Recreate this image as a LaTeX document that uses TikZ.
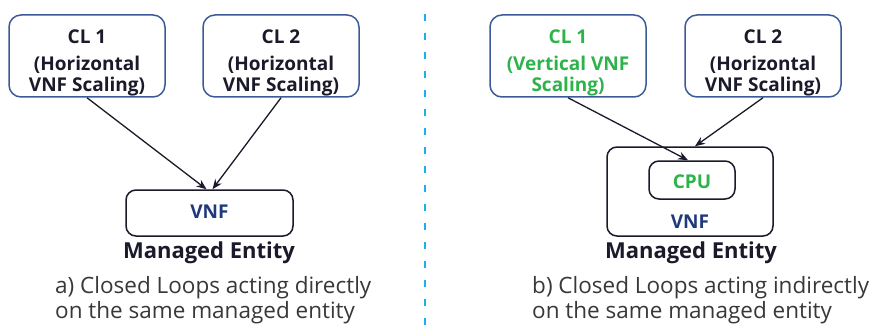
\documentclass[tikz,border=0pt]{standalone}
\usepackage{fontspec}
\setmainfont{Open Sans}
\usetikzlibrary{arrows.meta,calc}
\definecolor{boxblue}{HTML}{3C5A99}
\definecolor{vnfblue}{HTML}{1F3A7A}
\definecolor{clgreen}{HTML}{2DB34A}
\definecolor{sepblue}{HTML}{1DB0E6}
\definecolor{ink}{HTML}{1A1A2A}
\definecolor{captext}{HTML}{383838}
\begin{document}
\begin{tikzpicture}[x=1pt,y=-1pt,
  clbox/.style={draw=boxblue,line width=1.5pt,rounded corners=12pt,
    minimum width=156pt,minimum height=82pt,inner sep=0pt},
  entbox/.style={draw=ink,line width=1.5pt,rounded corners=10pt,inner sep=0pt},
  cltext/.style={align=center,inner sep=0pt,
    font=\bfseries\fontsize{19}{21}\selectfont},
  vnftext/.style={text=vnfblue,inner sep=0pt,font=\bfseries\fontsize{19}{21}\selectfont},
  enttitle/.style={text=ink,inner sep=0pt,font=\bfseries\fontsize{22}{24}\selectfont},
  caption/.style={text=captext,align=left,anchor=west,inner sep=0pt,
    font=\fontsize{22.5}{25}\selectfont},
  link/.style={draw=ink,line width=1.3pt,-{Stealth[length=10pt,width=8pt]}}]
\useasboundingbox[fill=white] (0,0) rectangle (883,326);

% separator between the two cases
\coordinate (septop) at (425,14);
\coordinate (sepbot) at (425,326);
\draw[sepblue,line width=2.5pt,dash pattern=on 7pt off 12pt] (septop) -- (sepbot);

% ---- case a) ----
\node[clbox] (cla1) at (87,56) {};
\node[cltext,text=ink] (cla1t) at (87,63) {CL 1\\[6pt](Horizontal\\VNF Scaling)};
\node[clbox] (cla2) at (281,56) {};
\node[cltext,text=ink] (cla2t) at (281,63) {CL 2\\[6pt](Horizontal\\VNF Scaling)};
\node[entbox,minimum width=167pt,minimum height=46pt] (vnfa) at (209.5,213) {};
\node[vnftext] (vnfat) at (209.5,212) {VNF};
\node[enttitle] (enta) at (209,253) {Managed Entity};
\node[caption] (capa) at (55,300) {a) Closed Loops acting directly\\on the same managed entity};
\draw[link] (cla1.south) -- ($(vnfa.north)+(-3,0)$);
\draw[link] (cla2.south) -- ($(vnfa.north)+(3,0)$);

% ---- case b) ----
\node[clbox] (clb1) at (568,56) {};
\node[cltext,text=clgreen] (clb1t) at (568,63) {CL 1\\[6pt](Vertical VNF\\Scaling)};
\node[clbox] (clb2) at (763,56) {};
\node[cltext,text=ink] (clb2t) at (763,63) {CL 2\\[6pt](Horizontal\\VNF Scaling)};
\node[entbox,minimum width=166pt,minimum height=89pt] (vnfb) at (690,191.5) {};
\node[entbox,minimum width=86pt,minimum height=38pt] (cpu) at (692,180) {};
\node[inner sep=0pt,text=clgreen,font=\bfseries\fontsize{19}{21}\selectfont] (cput) at (692,182) {CPU};
\node[vnftext] (vnfbt) at (690,222) {VNF};
\node[enttitle] (entb) at (691,253) {Managed Entity};
\node[caption] (capb) at (532,300) {b) Closed Loops acting indirectly\\on the same managed entity};
\draw[link] (clb1.south) -- ($(cpu.north)+(-4,0)$);
\draw[link] (clb2.south) -- ($(vnfb.north)+(5,0)$);
\end{tikzpicture}
\end{document}
